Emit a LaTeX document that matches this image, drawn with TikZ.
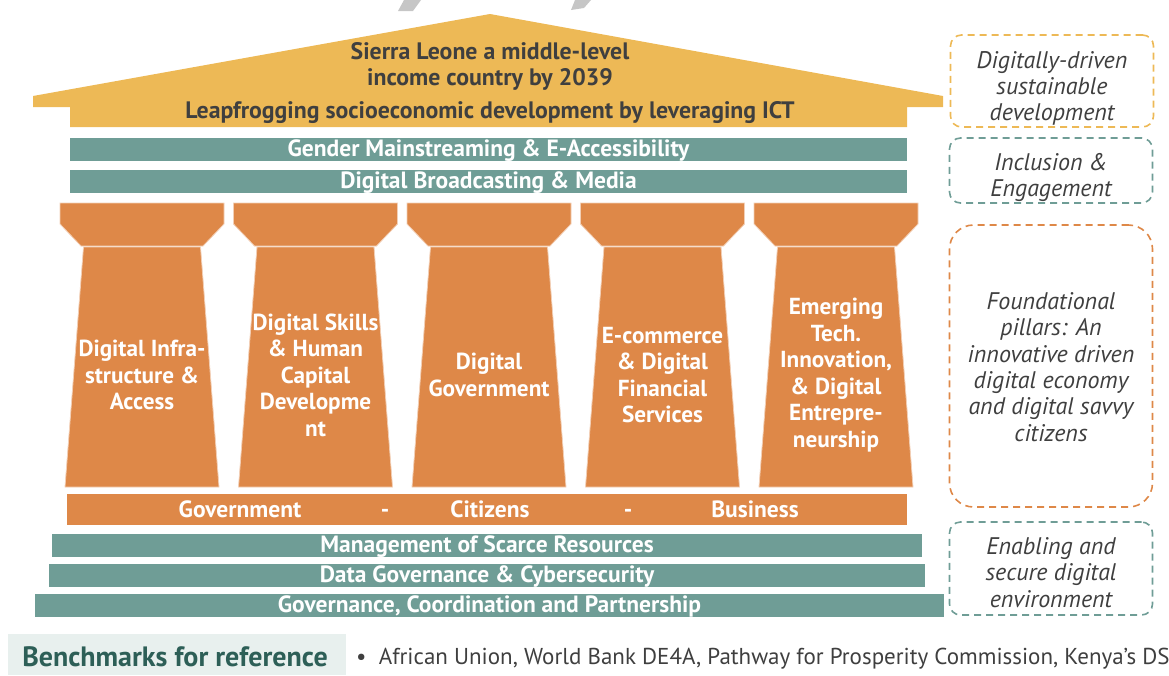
\documentclass[tikz,border=0pt]{standalone}
\usepackage{fontspec}
\setmainfont{PT Sans}
\usetikzlibrary{positioning}
\definecolor{roofgold}{HTML}{EDB956}
\definecolor{barteal}{HTML}{6F9D96}
\definecolor{pillarorange}{HTML}{DE8848}
\definecolor{textgray}{HTML}{3F3F3F}
\definecolor{benchbg}{HTML}{E8F0EE}
\definecolor{benchtext}{HTML}{2D5F57}
\tikzset{
  oneline/.style={text height=#1, text depth=0pt},
  oneline/.default=14.6pt,
  tealbar/.style={fill=barteal, text=white, inner sep=0pt, minimum height=23pt, oneline,
    font=\bfseries\fontsize{23.5}{26}\selectfont},
  pillartext/.style={text=white, align=center, inner sep=0pt,
    font=\bfseries\fontsize{23.2}{26.5}\selectfont},
  basetext/.style={text=white, inner sep=0pt, oneline, font=\bfseries\fontsize{23.5}{26}\selectfont},
  rooftext/.style={text=textgray, align=center, inner sep=0pt,
    font=\bfseries\fontsize{23.8}{26}\selectfont},
  notebox/.style={draw=#1, line width=1.6pt, dash pattern=on 7pt off 5pt,
    rounded corners=11pt, inner sep=0pt, minimum width=203pt},
  notetext/.style={text=textgray, align=center, inner sep=0pt,
    font=\itshape\fontsize{24}{26.3}\selectfont}
}
\begin{document}
\begin{tikzpicture}[x=1pt, y=-1pt]
  \useasboundingbox (0,0) rectangle (1169,675);
  \fill[gray!45] (404,0) -- (421,0) -- (413,11) -- (398,11) -- cycle;
  \fill[gray!45] (575,0) -- (591,0) -- (584,8) -- (571,10) -- cycle;
  % roof
  \fill[roofgold] (33,107) -- (33,96) -- (490,14) -- (943,96) -- (943,107)
    -- (907,107) -- (907,127) -- (70,127) -- (70,107) -- cycle;
  \node[rooftext] (goal) at (490,66) {Sierra Leone a middle-level\\income country by 2039};
  \node[rooftext, oneline] (vision) at (490,111) {Leapfrogging socioeconomic development by leveraging ICT};
  \node[tealbar, minimum width=837pt] (gender) at (488.5,149) {Gender Mainstreaming \& E-Accessibility};
  \node[tealbar, minimum width=837pt] (media) at (488.5,181.5) {Digital Broadcasting \& Media};
  % pillars
  \foreach \i in {0,...,4}{
    \pgfmathsetmacro\cx{142+173.5*\i}
    \filldraw[pillarorange, draw=pillarorange!40!white, line width=0.8pt]
      (\cx-82,203) -- (\cx+82,203) -- (\cx+82,224) -- (\cx+61,246)
      -- (\cx-61,246) -- (\cx-82,224) -- cycle;
    \filldraw[pillarorange, draw=pillarorange!40!white, line width=0.8pt]
      (\cx-58.5,247) -- (\cx+58.5,247) -- (\cx+77,487) -- (\cx-77,487) -- cycle;
  }
  \node[pillartext] (p1) at (142,375) {Digital Infra-\\structure \&\\Access};
  \node[pillartext] (p2) at (315.5,375) {Digital Skills\\\& Human\\Capital\\Developme\\nt};
  \node[pillartext] (p3) at (489,375) {Digital\\Government};
  \node[pillartext] (p4) at (662.5,375) {E-commerce\\\& Digital\\Financial\\Services};
  \node[pillartext] (p5) at (836,375) {Emerging\\Tech.\\Innovation,\\\& Digital\\Entrepre-\\neurship};
  % base
  \node[fill=pillarorange, minimum width=840pt, minimum height=31pt, inner sep=0pt] (base) at (487,509.5) {};
  \node[basetext] (gov) at (240,510) {Government};
  \node[basetext] (d1) at (385,510) {-};
  \node[basetext] (cit) at (490,510) {Citizens};
  \node[basetext] (d2) at (628,510) {-};
  \node[basetext] (bus) at (755,510) {Business};
  \node[tealbar, minimum width=870pt] (scarce) at (487,545) {Management of Scarce Resources};
  \node[tealbar, minimum width=876pt] (data) at (487,575.5) {Data Governance \& Cybersecurity};
  \node[tealbar, minimum width=909pt] (coord) at (489.5,605.5) {Governance, Coordination and Partnership};
  % notes
  \node[notebox=roofgold, minimum height=92pt] (n1) at (1052,81) {};
  \node[notetext] (t1) at (n1.center) [yshift=-7.5pt] {Digitally-driven\\sustainable\\development};
  \node[notebox=barteal, minimum height=65pt] (n2) at (1051,170.5) {};
  \node[notetext] (t2) at (n2.center) [yshift=-7pt] {Inclusion \&\\Engagement};
  \node[notebox=pillarorange, minimum height=282pt, rounded corners=24pt] (n3) at (1051,366) {};
  \node[notetext] (t3) at (n3.center) [yshift=-1pt]
    {Foundational\\pillars: An\\innovative driven\\digital economy\\and digital savvy\\citizens};
  \node[notebox=barteal, minimum height=93pt] (n4) at (1051,568.5) {};
  \node[notetext] (t4) at (n4.center) [yshift=-4pt] {Enabling and\\secure digital\\environment};
  % benchmarks
  \node[fill=benchbg, minimum width=338pt, minimum height=41pt, inner sep=0pt] (bench) at (177,654.5) {};
  \node[text=benchtext, inner sep=0pt, oneline=17.4pt, font=\bfseries\fontsize{28}{30}\selectfont]
    (benchlabel) at (175,658) {Benchmarks for reference};
  \node[anchor=west, text=textgray, inner sep=0pt, oneline=14.3pt, font=\fontsize{23}{26}\selectfont] (refs)
    at (356,657) {\textbullet\ \ African Union, World Bank DE4A, Pathway for Prosperity Commission, Kenya’s DS};
\end{tikzpicture}
\end{document}
